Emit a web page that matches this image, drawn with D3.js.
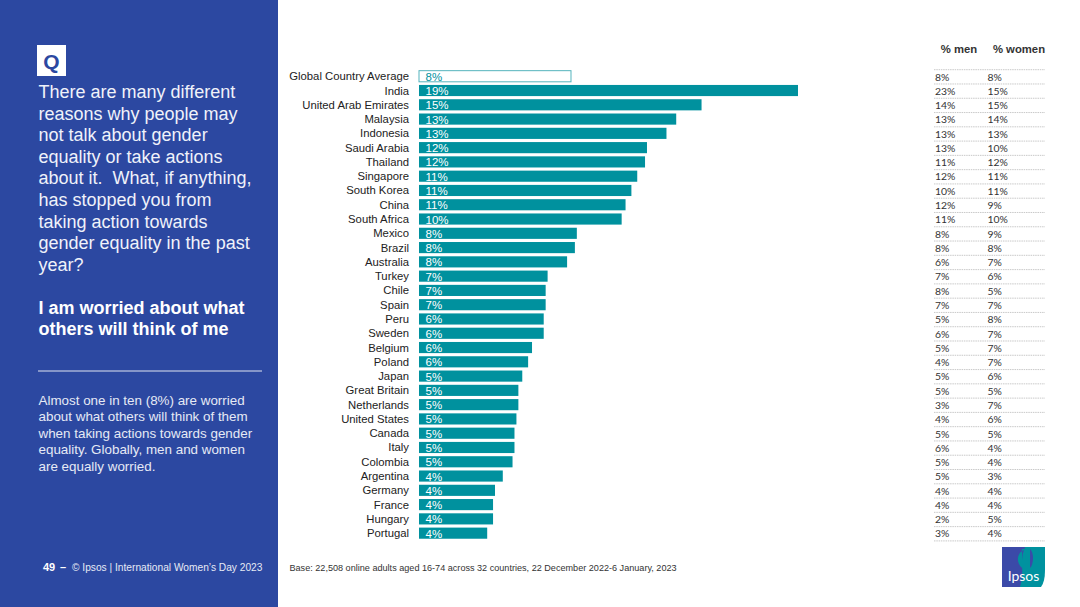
<!DOCTYPE html>
<html><head><meta charset="utf-8">
<script src="https://cdn.jsdelivr.net/npm/d3@7/dist/d3.min.js"></script>
<style>html,body{margin:0;padding:0;background:#fff;overflow:hidden}svg{display:block}text{font-family:"Liberation Sans",Arial,sans-serif;white-space:pre}</style>
</head><body><svg id="c" width="1080" height="607"></svg>
<script>
const countries=["Global Country Average","India","United Arab Emirates","Malaysia","Indonesia","Saudi Arabia","Thailand","Singapore","South Korea","China","South Africa","Mexico","Brazil","Australia","Turkey","Chile","Spain","Peru","Sweden","Belgium","Poland","Japan","Great Britain","Netherlands","United States","Canada","Italy","Colombia","Argentina","Germany","France","Hungary","Portugal"];
const barValues=[7.8,19.45,14.5,13.2,12.7,11.7,11.6,11.2,10.9,10.6,10.4,8.1,8.0,7.6,6.6,6.5,6.5,6.4,6.4,5.8,5.6,5.3,5.1,5.1,5.0,4.9,4.9,4.8,4.3,3.9,3.8,3.8,3.5];
const barLabels=[8,19,15,13,13,12,12,11,11,11,10,8,8,8,7,7,7,6,6,6,6,5,5,5,5,5,5,5,4,4,4,4,4];
const men=[8,23,14,13,13,13,11,12,10,12,11,8,8,6,7,8,7,5,6,5,4,5,5,3,4,5,6,5,5,4,4,2,3];
const women=[8,15,15,14,13,10,12,11,11,9,10,9,8,7,6,5,7,8,7,7,7,6,5,7,6,5,4,4,3,4,4,5,4];
const questionLines=["There are many different","reasons why people may","not talk about gender","equality or take actions","about it.  What, if anything,","has stopped you from","taking action towards","gender equality in the past","year?"];
const statementLines=["I am worried about what","others will think of me"];
const noteLines=["Almost one in ten (8%) are worried","about what others will think of them","when taking actions towards gender","equality. Globally, men and women","are equally worried."];

const teal="#00919e", blue="#2c48a1";
const svg=d3.select("#c");
const x=d3.scaleLinear().domain([0,19.45]).range([419,798]);
const y=d3.scaleBand().domain(countries).range([69.1,540.3]).paddingInner(0.22).paddingOuter(0.11);
const yc=c=>y(c)+y.bandwidth()/2;

svg.append("rect").attr("x",0).attr("y",0).attr("width",278).attr("height",607).attr("fill",blue);
svg.append("rect").attr("x",37).attr("y",45).attr("width",29).attr("height",31).attr("fill","#fff");
svg.append("text").attr("x",51.5).attr("y",68.5).attr("text-anchor","middle").attr("font-size",21).attr("font-weight",700).attr("fill",blue).text("Q");

const white=(arr,y0,dy,size,weight)=>svg.append("g").selectAll("text").data(arr).join("text")
  .attr("x",38.5).attr("y",(d,i)=>y0+i*dy).attr("font-size",size).attr("font-weight",weight).attr("fill","#fff").text(d=>d);
white(questionLines,98,21.6,18,400).attr("fill","#f0f2fa");
white(statementLines,313.5,21.8,18,700);
white(noteLines,405,16.4,13.4,400).attr("fill","#e6eaf5");
svg.append("line").attr("x1",38).attr("x2",262).attr("y1",371).attr("y2",371).attr("stroke","#dfe3f0").attr("stroke-width",1);

svg.append("text").attr("x",43).attr("y",571).attr("font-size",11).attr("font-weight",700).attr("fill","#fff").text("49");
svg.append("text").attr("x",60).attr("y",571).attr("font-size",11).attr("font-weight",700).attr("fill","#fff").text("–");
svg.append("text").attr("x",72).attr("y",571).attr("font-size",10.2).attr("fill","#e6eaf5").text("© Ipsos | International Women’s Day 2023");
svg.append("text").attr("x",289.5).attr("y",571).attr("font-size",9.1).attr("fill","#333").text("Base: 22,508 online adults aged 16-74 across 32 countries, 22 December 2022-6 January, 2023");

const rows=svg.append("g");
rows.selectAll("rect").data(countries).join("rect")
  .attr("x",x(0)).attr("y",d=>y(d)).attr("height",y.bandwidth())
  .attr("width",(d,i)=>x(barValues[i])-x(0))
  .attr("fill",(d,i)=>i===0?"#fff":teal).attr("stroke",(d,i)=>i===0?"#55b4bd":"none").attr("stroke-width",1);
rows.selectAll("text.cat").data(countries).join("text").attr("class","cat")
  .attr("x",409).attr("y",d=>yc(d)+4).attr("text-anchor","end").attr("font-size",11.3).attr("fill","#222").text(d=>d);
rows.selectAll("text.val").data(countries).join("text").attr("class","val")
  .attr("x",425.5).attr("y",d=>yc(d)+4.5).attr("font-size",11.5).attr("fill",(d,i)=>i===0?teal:"#fff")
  .text((d,i)=>barLabels[i]+"%");

svg.append("text").attr("x",959).attr("y",53).attr("text-anchor","middle").attr("font-size",11.3).attr("font-weight",700).attr("fill","#333").text("% men");
svg.append("text").attr("x",1019).attr("y",53).attr("text-anchor","middle").attr("font-size",11.3).attr("font-weight",700).attr("fill","#333").text("% women");

const tbl=svg.append("g");
tbl.selectAll("line").data([null,...countries]).join("line")
  .attr("x1",934).attr("x2",1045)
  .attr("y1",(d,i)=>i===0?69.7:y(d)+y.bandwidth()+y.step()*y.paddingInner()/2+0.6)
  .attr("y2",(d,i)=>i===0?69.7:y(d)+y.bandwidth()+y.step()*y.paddingInner()/2+0.6)
  .attr("stroke","#bbb").attr("stroke-width",0.8).attr("stroke-dasharray","1.5 0.8");
tbl.selectAll("text.m").data(countries).join("text").attr("class","m")
  .attr("x",935).attr("y",d=>yc(d)+4.3).style("font-family","Lato").attr("font-size",10.4).attr("fill","#333").text((d,i)=>men[i]+"%");
tbl.selectAll("text.w").data(countries).join("text").attr("class","w")
  .attr("x",987.5).attr("y",d=>yc(d)+4.3).style("font-family","Lato").attr("font-size",10.4).attr("fill","#333").text((d,i)=>women[i]+"%");

const logo=svg.append("g");
logo.append("path").attr("d","M1002 547H1045V570Q1045 582 1041 587H1002Z").attr("fill","#00929f");
logo.append("path").attr("d","M1002 547H1025Q1021 556 1022 566Q1023 578 1020 587H1002Z").attr("fill","#3b4aa8");
logo.append("path").attr("d","M1027 549C1017 551 1015 562 1022 568V549Z").attr("fill","#00929f");
logo.append("path").attr("d","M1030 549C1034 552 1034 564 1030 568Z").attr("fill","#3b4aa8");
logo.append("text").attr("x",1023.5).attr("y",581).attr("text-anchor","middle").style("font-family","Lato").attr("font-size",14).attr("font-weight",400).attr("fill","#fff").text("Ipsos");
</script></body></html>
